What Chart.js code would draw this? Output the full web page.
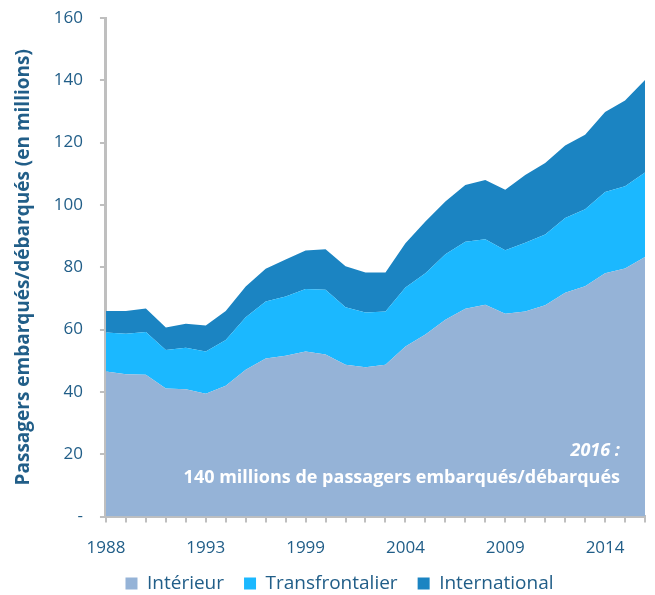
<!DOCTYPE html>
<html>
<head>
<meta charset="utf-8">
<script src="https://cdn.jsdelivr.net/npm/chart.js@4"></script>
<style>
  html, body { margin: 0; padding: 0; background: #fff; }
  #wrap { width: 655px; height: 595px; position: relative; }
</style>
</head>
<body>
<div id="wrap"><canvas id="trafic"></canvas></div>
<script>
// années (une année manque entre 1993 et 1999 sur l'axe d'origine)
const years = ['1988','1989','1990','1991','1992','1993','1995','1996','1997','1998','1999','2000','2001','2002',
  '2003','2004','2005','2006','2007','2008','2009','2010','2011','2012','2013','2014','2015','2016'];

const interieur = [46.6, 45.7, 45.5, 41.1, 40.9, 39.4, 42.0, 47.1, 50.7, 51.6, 53.0, 52.0, 48.7, 47.9,
  48.7, 54.6, 58.4, 63.2, 66.7, 68.0, 65.1, 65.8, 67.8, 71.8, 73.9, 78.1, 79.6, 83.3];
const transfrontalier = [12.5, 13.0, 13.7, 12.4, 13.3, 13.6, 14.7, 16.9, 18.3, 19.0, 20.0, 20.8, 18.5, 17.6,
  17.1, 18.9, 19.7, 21.0, 21.5, 21.0, 20.4, 22.1, 22.7, 24.0, 24.7, 26.1, 26.4, 27.1];
const international = [6.9, 7.3, 7.6, 7.2, 7.7, 8.3, 9.3, 9.8, 10.5, 11.9, 12.4, 13.0, 13.1, 12.8,
  12.5, 14.2, 16.6, 16.9, 18.2, 19.0, 19.4, 21.7, 23.0, 23.3, 23.9, 25.6, 27.5, 29.7];

const yTicks = [0, 20, 40, 60, 80, 100, 120, 140, 160];

const txtColor = '#215E88';
const axisColor = '#BFBFBF';
const fontFam = '"Open Sans", Lato, sans-serif';

// petite note en bas à droite de la zone de tracé
const notePlugin = {
  id: 'note',
  afterLayout(chart) {
    // légende un peu décalée à droite, comme sur l'original
    const lg = chart.legend;
    lg.left += 12; lg.right += 12;
    lg.top -= 19; lg.bottom -= 19;
  },
  afterDatasetsDraw(chart) {
    const { ctx, chartArea } = chart;
    ctx.save();
    ctx.fillStyle = '#ffffff';
    ctx.textAlign = 'right';
    ctx.textBaseline = 'middle';
    ctx.font = 'italic bold 18px ' + fontFam;
    ctx.fillText('2016 :', chartArea.right - 25, chartArea.bottom - 66);
    ctx.font = 'bold 18px ' + fontFam;
    ctx.fillText('140 millions de passagers embarqués/débarqués', chartArea.right - 25, chartArea.bottom - 39);
    ctx.restore();
  }
};

const ds = (label, data, color, fill) => ({
  label, data, fill,
  backgroundColor: color, borderColor: color, borderWidth: 0,
  pointRadius: 0, tension: 0
});

new Chart(document.getElementById('trafic'), {
  type: 'line',
  data: {
    labels: years,
    datasets: [
      ds('Intérieur', interieur, '#95B3D7', 'origin'),
      ds('Transfrontalier', transfrontalier, '#1BB8FF', '-1'),
      ds('International', international, '#1B84C2', '-1')
    ]
  },
  options: {
    responsive: true,
    maintainAspectRatio: false,
    animation: false,
    layout: { padding: { top: 0, right: 10, left: 10, bottom: -27 } },
    plugins: {
      tooltip: { enabled: false },
      legend: {
        position: 'bottom',
        labels: {
          color: txtColor, font: { family: fontFam, size: 19 },
          boxWidth: 12, boxHeight: 12, padding: 20
        }
      }
    },
    scales: {
      x: {
        offset: false,
        afterFit: axis => { axis.paddingRight = 0; },
        grid: { drawOnChartArea: false, drawTicks: true, tickLength: 6, color: axisColor, lineWidth: 2 },
        border: { display: true, color: axisColor, width: 3 },
        ticks: {
          color: txtColor, font: { family: fontFam, size: 17 },
          autoSkip: false, maxRotation: 0, padding: 15,
          callback: (v, i) => i % 5 === 0 ? years[i] : ''
        }
      },
      y: {
        stacked: true,
        min: 0, max: 160,
        afterBuildTicks: axis => { axis.ticks = yTicks.map(v => ({ value: v })); },
        afterFit: axis => { axis.paddingTop = 18; },
        grid: { drawOnChartArea: false, drawTicks: true, tickLength: 6, color: axisColor, lineWidth: 2 },
        border: { display: true, color: axisColor, width: 3 },
        ticks: {
          color: txtColor, font: { family: fontFam, size: 17 }, padding: 17,
          callback: v => v === 0 ? '-' : v
        },
        title: {
          display: true, text: 'Passagers embarqués/débarqués (en millions)',
          color: txtColor, font: { family: fontFam, size: 19, weight: 'bold' }, padding: 2
        }
      }
    }
  },
  plugins: [notePlugin]
});
</script>
</body>
</html>
